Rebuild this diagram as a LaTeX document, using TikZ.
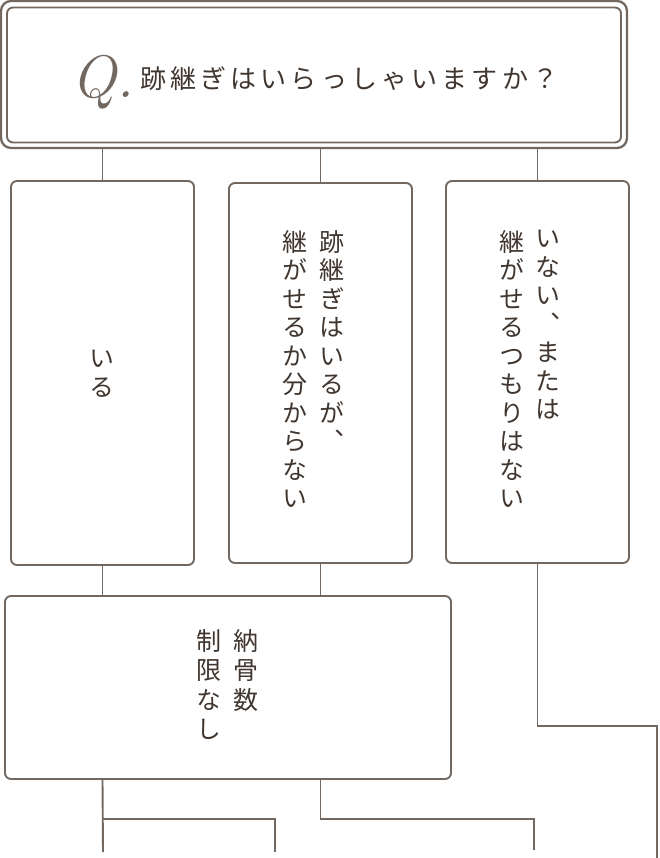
\documentclass[tikz,border=0pt]{standalone}
\usepackage{fontspec}
\usetikzlibrary{positioning}
\newfontfamily\jpfont{Noto Sans CJK JP}
\newfontfamily\jpvert[RawFeature=+vert]{Noto Sans CJK JP}
\newfontfamily\jptitle[LetterSpace=16]{Noto Sans CJK JP}
\definecolor{framebrown}{HTML}{736860}
\definecolor{inkbrown}{HTML}{40362F}

\begin{document}
\begin{tikzpicture}[x=1pt,y=-1pt,
    answer/.style={draw=framebrown,line width=1.9pt,rounded corners=6pt,inner sep=0pt},
    vtext/.style={text=inkbrown,inner sep=0pt,align=center,anchor=north,
      font=\jpvert\fontsize{25}{28.5}\selectfont},
    link/.style={draw=framebrown,line width=1.9pt}]
    \useasboundingbox (0,0) rectangle (659,858);
    % question
    \node[answer,rounded corners=10pt,line width=2.3pt,minimum width=626pt,minimum height=147pt] (q) at (314,74.5) {};
    \node[answer,minimum width=614pt,minimum height=135pt] (qin) at (314,75) {};
    \node[anchor=base west,inner sep=0pt,text=framebrown,font=\fontsize{60}{60}\selectfont\itshape] (qmark) at (71,98) {Q.};
    \node[anchor=base west,inner sep=0pt,text=inkbrown,font=\jptitle\fontsize{26}{26}\selectfont] (qtext) at (140,89) {跡継ぎはいらっしゃいますか？};
    % answers
    \node[answer,minimum width=183pt,minimum height=384pt] (yes) at (102.5,373) {};
    \node[answer,minimum width=183pt,minimum height=380pt] (unsure) at (320.5,373) {};
    \node[answer,minimum width=183pt,minimum height=382pt] (no) at (537.5,372) {};
    \node[vtext,anchor=center] (yestext) at (102,374) {い\\る};
    \node[vtext] (unsurea) at (332,230) {跡\\継\\ぎ\\は\\い\\る\\が\\、};
    \node[vtext] (unsureb) at (295,230) {継\\が\\せ\\る\\か\\分\\か\\ら\\な\\い};
    \node[vtext] (noa) at (548,230) {い\\な\\い\\、\\ま\\た\\は};
    \node[vtext] (nob) at (512,230) {継\\が\\せ\\る\\つ\\も\\り\\は\\な\\い};
    % result
    \node[answer,minimum width=446pt,minimum height=183pt] (free) at (228,687.5) {};
    \node[vtext,font=\jpvert\fontsize{25}{29.5}\selectfont] (freea) at (246,629) {納\\骨\\数};
    \node[vtext,font=\jpvert\fontsize{25}{29.5}\selectfont] (freeb) at (209,629) {制\\限\\な\\し};
    % connectors
    \draw[link] (yes.north) -- (yes.north |- q.south);
    \draw[link] (unsure.north) -- (unsure.north |- q.south);
    \draw[link] (no.north) -- (no.north |- q.south);
    \draw[link] (yes.south) -- (yes.south |- free.north);
    \draw[link] (unsure.south) -- (unsure.south |- free.north);
    \coordinate (noturn) at (657,726);
    \coordinate (noend) at (657,858);
    \draw[link] (no.south) |- (noturn) -- (noend);
    \coordinate (leftend) at (103,852);
    \coordinate (leftturn) at (275,819);
    \coordinate (leftend2) at (275,852);
    \draw[link] (yes.south |- free.south) -- (leftend);
    \draw[link] (yes.south |- leftturn) -- (leftturn) -- (leftend2);
    \coordinate (midturn) at (534,819);
    \coordinate (midend) at (534,850);
    \draw[link] (unsure.south |- free.south) |- (midturn) -- (midend);
\end{tikzpicture}
\end{document}
